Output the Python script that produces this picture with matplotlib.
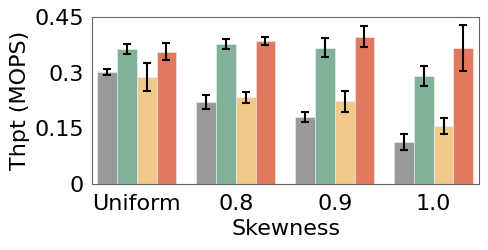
import numpy as np
import matplotlib
matplotlib.use("Agg")
import matplotlib.pyplot as plt

categories = ["Uniform", "0.8", "0.9", "1.0"]
gray_vals = [0.302, 0.221, 0.181, 0.113]
gray_err = [0.008, 0.020, 0.013, 0.022]
green_vals = [0.364, 0.377, 0.367, 0.291]
green_err = [0.013, 0.013, 0.026, 0.026]
yellow_vals = [0.288, 0.234, 0.223, 0.156]
yellow_err = [0.038, 0.015, 0.028, 0.022]
red_vals = [0.356, 0.385, 0.397, 0.367]
red_err = [0.023, 0.011, 0.028, 0.062]

series = [
    (gray_vals, gray_err, "#999999"),
    (green_vals, green_err, "#80b29a"),
    (yellow_vals, yellow_err, "#f1c98b"),
    (red_vals, red_err, "#e0795d"),
]

fig, ax = plt.subplots(figsize=(4.88, 2.5), dpi=100)
x = np.arange(len(categories))
width = 0.2
for i, (vals, err, color) in enumerate(series):
    pos = x + (i - 1.5) * width
    ax.bar(pos, vals, width, color=color, edgecolor="#f0f0f0", linewidth=0.4,
           yerr=err, capsize=3, error_kw=dict(ecolor="black", elinewidth=1.5, capthick=1.5))

ax.set_xlim(-0.45, 3.46)
ax.set_ylim(0, 0.45)
ax.set_yticks([0, 0.15, 0.3, 0.45])
ax.set_yticklabels(["0", "0.15", "0.3", "0.45"])
ax.set_xticks(x)
ax.set_xticklabels(categories)
ax.tick_params(length=0, labelsize=16)
ax.tick_params(axis="x", pad=7)
ax.tick_params(axis="y", pad=6)
ax.set_xlabel("Skewness", fontsize=16, labelpad=4)
ax.set_ylabel("Thpt (MOPS)", fontsize=16, labelpad=3)
for s in ax.spines.values():
    s.set_color("#666666")

fig.subplots_adjust(left=0.189, right=0.982, top=0.932, bottom=0.264)
fig.savefig("out.png", dpi=100)
